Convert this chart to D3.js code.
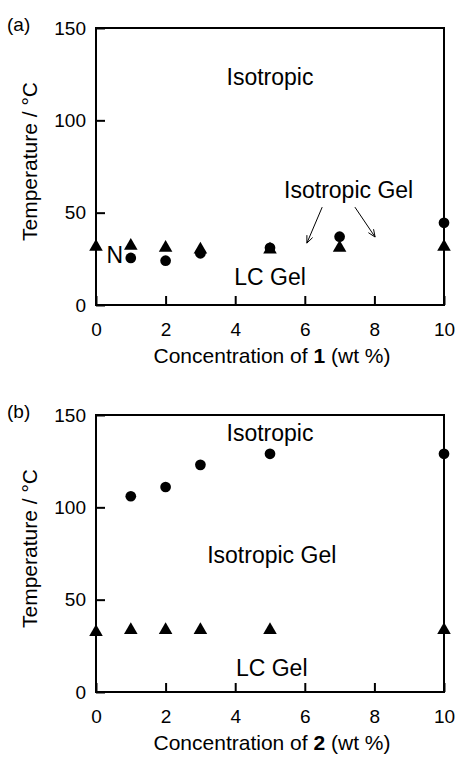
<!DOCTYPE html>
<html>
<head>
<meta charset="utf-8">
<script src="https://cdn.jsdelivr.net/npm/d3@7"></script>
<style>
  body { margin: 0; background: #fff; }
  svg { display: block; font-family: "Liberation Sans", Arial, sans-serif; }
</style>
</head>
<body>
<div id="chart"></div>
<script>
// panel (a): compound 1
const concTriA = [0, 1, 2, 3, 5, 7, 10];
const tempTriA = [31.5, 32, 31, 30, 30, 31, 31.5];
const concDotA = [1, 2, 3, 5, 7, 10];
const tempDotA = [25.5, 24, 28, 31, 37, 44.5];

// panel (b): compound 2
const concTriB = [0, 1, 2, 3, 5, 10];
const tempTriB = [32.5, 33.5, 33.5, 33.5, 33.5, 33.5];
const concDotB = [1, 2, 3, 5, 10];
const tempDotB = [106, 111, 123, 129, 129];

const xTicks = [0, 2, 4, 6, 8, 10];
const yTicks = [0, 50, 100, 150];

const w = 457, h = 759;
const left = 96, right = 444;

const svg = d3.select("#chart")
  .append("svg")
  .attr("width", w)
  .attr("height", h);

const drawPanel = (cfg) => {
  const x = d3.scaleLinear().domain([0, 10]).range([left, right]);
  const y = d3.scaleLinear().domain([0, 150]).range([cfg.bottom, cfg.top]);
  const g = svg.append("g");

  // inward ticks, no labels on top/right
  g.append("g")
    .attr("transform", `translate(0, ${cfg.bottom})`)
    .call(d3.axisBottom(x).tickValues(xTicks).tickSize(-9).tickPadding(18))
    .call(a => a.select(".domain").remove())
    .call(a => a.selectAll("line").attr("stroke-width", 2))
    .call(a => a.selectAll("text").attr("font-size", 19).attr("font-family", null));

  g.append("g")
    .attr("transform", `translate(${left}, 0)`)
    .call(d3.axisLeft(y).tickValues(yTicks).tickSize(-9).tickPadding(10))
    .call(a => a.select(".domain").remove())
    .call(a => a.selectAll("line").attr("stroke-width", 2))
    .call(a => a.selectAll("text").attr("font-size", 19).attr("font-family", null));

  g.append("rect")
    .attr("x", left)
    .attr("y", cfg.top)
    .attr("width", right - left)
    .attr("height", cfg.bottom - cfg.top)
    .attr("fill", "none")
    .attr("stroke", "#000")
    .attr("stroke-width", 2);

  // axis titles
  const xt = g.append("text")
    .attr("x", (left + right) / 2 + 2)
    .attr("y", cfg.bottom + 58)
    .attr("text-anchor", "middle")
    .attr("font-size", 21);
  xt.append("tspan").text("Concentration of ");
  xt.append("tspan").attr("font-weight", "bold").text(cfg.num);
  xt.append("tspan").text(" (wt %)");

  g.append("text")
    .attr("transform", `translate(37, ${(cfg.top + cfg.bottom) / 2 - 5}) rotate(-90)`)
    .attr("text-anchor", "middle")
    .attr("font-size", 21)
    .text("Temperature / °C");

  g.append("text")
    .attr("x", 7)
    .attr("y", cfg.top + 3)
    .attr("font-size", 19)
    .text(cfg.tag);

  // region labels
  g.selectAll(".region")
    .data(cfg.labels)
    .enter()
    .append("text")
    .attr("class", "region")
    .attr("x", d => x(d.x))
    .attr("y", d => y(d.t))
    .attr("text-anchor", d => d.anchor || "middle")
    .attr("font-size", 23)
    .text(d => d.text);

  // arrows
  cfg.arrows.forEach(a => {
    const x1 = x(a.x1), y1 = y(a.t1), x2 = x(a.x2), y2 = y(a.t2);
    const ang = Math.atan2(y2 - y1, x2 - x1);
    const hl = 8, sp = 0.4;
    g.append("line")
      .attr("x1", x1).attr("y1", y1).attr("x2", x2).attr("y2", y2)
      .attr("stroke", "#000").attr("stroke-width", 1);
    g.append("path")
      .attr("d", `M${x2 - hl * Math.cos(ang - sp)},${y2 - hl * Math.sin(ang - sp)}L${x2},${y2}L${x2 - hl * Math.cos(ang + sp)},${y2 - hl * Math.sin(ang + sp)}`)
      .attr("fill", "none").attr("stroke", "#000").attr("stroke-width", 1);
  });

  // markers
  const tri = d3.symbol(d3.symbolTriangle, 80);
  const dot = d3.symbol(d3.symbolCircle, 90);

  g.selectAll(".tri")
    .data(cfg.triX.map((c, i) => [c, cfg.triT[i]]))
    .enter()
    .append("path")
    .attr("class", "tri")
    .attr("d", tri)
    .attr("transform", d => `translate(${x(d[0])}, ${y(d[1])})`)
    .attr("fill", "#000");

  g.selectAll(".dot")
    .data(cfg.dotX.map((c, i) => [c, cfg.dotT[i]]))
    .enter()
    .append("path")
    .attr("class", "dot")
    .attr("d", dot)
    .attr("transform", d => `translate(${x(d[0])}, ${y(d[1])})`)
    .attr("fill", "#000");
};

drawPanel({
  tag: "(a)", num: "1", top: 28, bottom: 305,
  triX: concTriA, triT: tempTriA, dotX: concDotA, dotT: tempDotA,
  labels: [
    {text: "Isotropic", x: 5, t: 119},
    {text: "Isotropic Gel", x: 7.26, t: 58},
    {text: "LC Gel", x: 5, t: 11},
    {text: "N", x: 0.3, t: 22.5, anchor: "start"}
  ],
  arrows: [
    {x1: 6.5, t1: 53, x2: 6.06, t2: 33.5},
    {x1: 7.44, t1: 53, x2: 8.02, t2: 36.8}
  ]
});

drawPanel({
  tag: "(b)", num: "2", top: 415, bottom: 692,
  triX: concTriB, triT: tempTriB, dotX: concDotB, dotT: tempDotB,
  labels: [
    {text: "Isotropic", x: 5, t: 136},
    {text: "Isotropic Gel", x: 5.05, t: 70},
    {text: "LC Gel", x: 5.05, t: 8.5}
  ],
  arrows: []
});
</script>
</body>
</html>
